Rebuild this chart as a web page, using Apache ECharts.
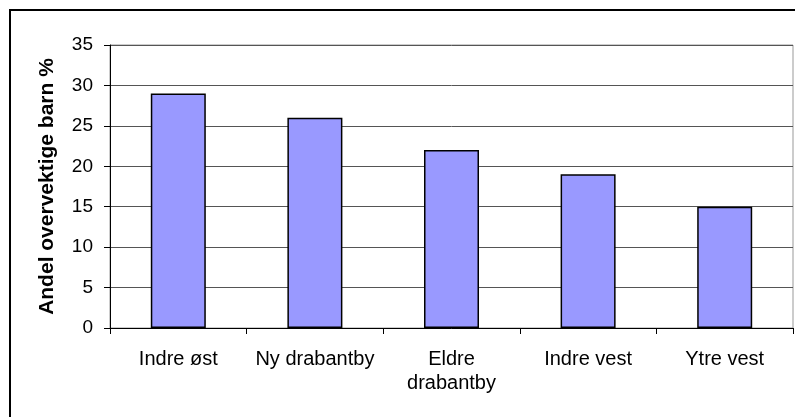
<!DOCTYPE html>
<html>
<head>
<meta charset="utf-8">
<script src="https://cdn.jsdelivr.net/npm/echarts@6/dist/echarts.min.js"></script>
<style>
html,body{margin:0;padding:0;background:#fff;}
#chart{width:795px;height:417px;}
</style>
</head>
<body>
<div id="chart"></div>
<script>
const categories = ['Indre øst', 'Ny drabantby', 'Eldre\ndrabantby', 'Indre vest', 'Ytre vest'];
const values = [29, 26, 22, 19, 15];
const yTicks = { min: 0, max: 35, interval: 5 };
const yAxisTitle = 'Andel overvektige barn %';

const FONT = 'Liberation Sans, Arial, sans-serif';
const chart = echarts.init(document.getElementById('chart'), null, { renderer: 'canvas' });
chart.setOption({
  animation: false,
  backgroundColor: '#ffffff',
  textStyle: { fontFamily: FONT },
  graphic: [{
    type: 'rect',
    shape: { x: 10, y: 10, width: 800, height: 420 },
    style: { fill: 'none', stroke: '#000', lineWidth: 2 },
    z: 100
  }, {
    type: 'rect',
    shape: { x: 110, y: 45, width: 683, height: 283 },
    style: { fill: 'none', stroke: '#999', lineWidth: 1 },
    z: 0
  }],
  grid: { left: 110, top: 45, right: 2, bottom: 89, containLabel: false },
  xAxis: {
    type: 'category',
    data: categories,
    boundaryGap: true,
    axisLine: { show: true, lineStyle: { color: '#000', width: 1 } },
    axisTick: { show: true, inside: false, length: 6, alignWithLabel: false, lineStyle: { color: '#000' } },
    axisLabel: { interval: 0, hideOverlap: false, color: '#000', fontSize: 20, margin: 19, lineHeight: 24, fontFamily: FONT },
    splitLine: { show: false }
  },
  yAxis: {
    type: 'value',
    min: yTicks.min, max: yTicks.max, interval: yTicks.interval,
    name: yAxisTitle,
    nameLocation: 'middle',
    nameGap: 52,
    nameRotate: 90,
    nameTextStyle: { color: '#000', fontSize: 21, fontWeight: 'bold', fontFamily: FONT },
    axisLine: { show: true, lineStyle: { color: '#000', width: 1 } },
    axisTick: { show: true, inside: false, length: 6, lineStyle: { color: '#000' } },
    axisLabel: { color: '#000', fontSize: 19, margin: 17, fontFamily: FONT },
    splitLine: { show: true, lineStyle: { color: '#555', width: 1 } }
  },
  series: [{
    type: 'bar',
    data: values,
    barWidth: 55,
    itemStyle: { color: '#9999ff', borderColor: '#000', borderWidth: 1.5 }
  }]
});
</script>
</body>
</html>
